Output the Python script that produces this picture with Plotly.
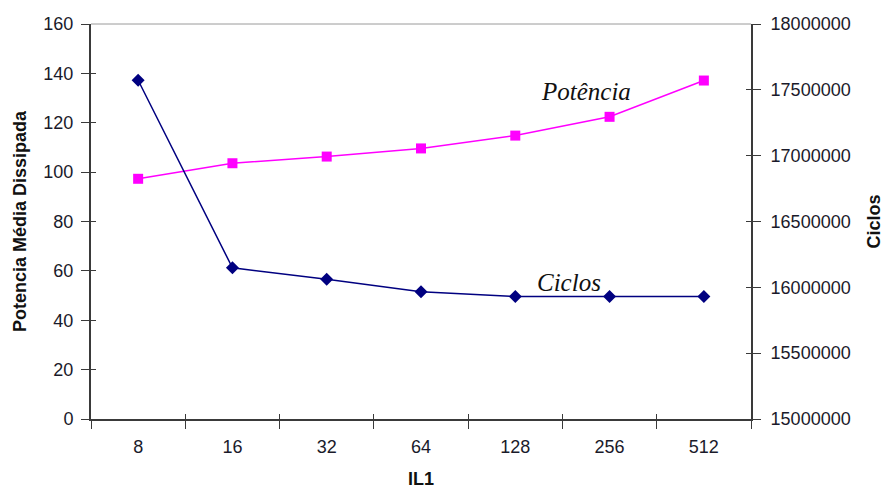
import plotly.graph_objects as go

# IL1 cache sizes (category axis)
il1_sizes = ["8", "16", "32", "64", "128", "256", "512"]
# average dissipated power (left axis)
potencia = [97.3, 103.6, 106.3, 109.6, 114.8, 122.4, 137.1]
# execution cycles (right axis)
ciclos = [17573000, 16148000, 16062000, 15966000, 15930000, 15930000, 15930000]

y_left_ticks = [0, 20, 40, 60, 80, 100, 120, 140, 160]
y_right_ticks = [15000000, 15500000, 16000000, 16500000, 17000000, 17500000, 18000000]

AXIS_COLOR = "#3a3a3a"
TEXT_COLOR = "#1a1a2a"
TICK_FONT = dict(family="Liberation Sans, Arial, sans-serif", size=18, color=TEXT_COLOR)
TITLE_FONT = dict(family="Liberation Sans, Arial, sans-serif", size=18, color="#111111")
LABEL_FONT = dict(family="Liberation Serif, Times New Roman, serif", size=25, color="#111111")

fig = go.Figure()

fig.add_trace(go.Scatter(
    x=il1_sizes, y=potencia, mode="lines+markers", name="Potência",
    line=dict(color="#FF00FF", width=1.5),
    marker=dict(symbol="square", size=10, color="#FF00FF"),
    xaxis="x", yaxis="y",
))
fig.add_trace(go.Scatter(
    x=il1_sizes, y=ciclos, mode="lines+markers", name="Ciclos",
    line=dict(color="#000080", width=1.5),
    marker=dict(symbol="diamond", size=10, color="#000080"),
    xaxis="x", yaxis="y2",
))

# invisible helpers so the inner tick marks (crossing ticks) get drawn
n = len(il1_sizes)
fig.add_trace(go.Scatter(x=[0], y=[0], mode="markers", opacity=0, showlegend=False,
                         hoverinfo="skip", xaxis="x2", yaxis="y3"))
fig.add_trace(go.Scatter(x=[0], y=[y_right_ticks[0]], mode="markers", opacity=0, showlegend=False,
                         hoverinfo="skip", xaxis="x2", yaxis="y4"))

fig.update_layout(
    width=884, height=489,
    margin=dict(l=91, r=133, t=24, b=70),
    paper_bgcolor="white", plot_bgcolor="white",
    showlegend=False,
    xaxis=dict(
        type="category", categoryorder="array", categoryarray=il1_sizes,
        range=[-0.5, n - 0.5], automargin=False,
        tickson="boundaries", ticks="outside", ticklen=8, tickwidth=1.3, tickcolor=AXIS_COLOR,
        showline=True, linecolor=AXIS_COLOR, linewidth=2,
        showgrid=False, zeroline=False,
        tickfont=TICK_FONT, ticklabelstandoff=10,
        title=dict(text="<b>IL1</b>", font=TITLE_FONT, standoff=22),
    ),
    xaxis2=dict(
        overlaying="x", range=[-0.5, n - 0.5], automargin=False,
        tickvals=[i + 0.5 for i in range(n - 1)],
        ticks="inside", ticklen=5, tickwidth=1.3, tickcolor=AXIS_COLOR,
        showticklabels=False, showgrid=False, zeroline=False, showline=False,
    ),
    yaxis=dict(
        range=[0, 160], tickvals=y_left_ticks, automargin=False,
        ticks="outside", ticklen=8, tickwidth=1.3, tickcolor=AXIS_COLOR,
        showline=True, linecolor=AXIS_COLOR, linewidth=2,
        showgrid=False, zeroline=False,
        tickfont=TICK_FONT, ticklabelstandoff=4,
        title=dict(text="<b>Potencia Média Dissipada</b>", font=TITLE_FONT, standoff=12),
    ),
    yaxis2=dict(
        overlaying="y", side="right", automargin=False,
        range=[15000000, 18000000], tickvals=y_right_ticks,
        ticktext=[str(v) for v in y_right_ticks],
        ticks="outside", ticklen=8, tickwidth=1.3, tickcolor=AXIS_COLOR,
        showline=True, linecolor=AXIS_COLOR, linewidth=2,
        showgrid=False, zeroline=False,
        tickfont=TICK_FONT, ticklabelstandoff=6,
        title=dict(text="<b>Ciclos</b>", font=TITLE_FONT, standoff=24),
    ),
    yaxis3=dict(
        overlaying="y", side="left", range=[0, 160], tickvals=y_left_ticks, automargin=False,
        ticks="inside", ticklen=5, tickwidth=1.3, tickcolor=AXIS_COLOR,
        showticklabels=False, showgrid=False, zeroline=False, showline=False,
    ),
    yaxis4=dict(
        overlaying="y", side="right", range=[15000000, 18000000], tickvals=y_right_ticks,
        automargin=False,
        ticks="inside", ticklen=5, tickwidth=1.3, tickcolor=AXIS_COLOR,
        showticklabels=False, showgrid=False, zeroline=False, showline=False,
    ),
    shapes=[
        dict(type="line", xref="paper", yref="paper", x0=0, x1=1, y0=1, y1=1,
             line=dict(color="#9a9a9a", width=1)),
    ],
    annotations=[
        dict(text="<i>Potência</i>", xref="paper", yref="paper", x=0.75, y=0.828,
             xanchor="center", yanchor="middle", showarrow=False, font=LABEL_FONT),
        dict(text="<i>Ciclos</i>", xref="paper", yref="paper", x=0.724, y=0.345,
             xanchor="center", yanchor="middle", showarrow=False, font=LABEL_FONT),
    ],
)

fig.write_html("out.html")
